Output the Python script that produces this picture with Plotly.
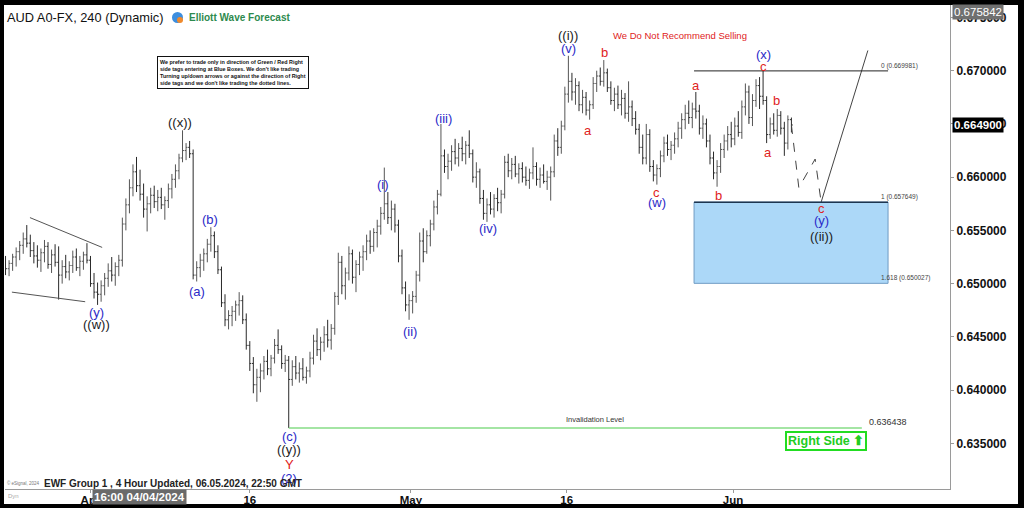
import plotly.graph_objects as go

# ---------------- data ----------------
tick_pos = [24, 69, 114.5, 158.5, 205.5]
tick_text = ["Apr", "16", "May", "16", "Jun"]
price_ticks = [0.635, 0.640, 0.645, 0.650, 0.655, 0.660, 0.665, 0.670, 0.675]
price_text = ["0.635000", "0.640000", "0.645000", "0.650000", "0.655000",
              "0.660000", "0.665000", "0.670000", "0.675000"]

opens = [
 0.6518,0.6514,0.6519,0.6525,0.6530,0.6536,0.6542,0.6538,0.6531,0.6526,
 0.6522,0.6529,0.6535,0.6518,0.6527,0.6520,0.6508,0.6516,0.6511,0.6517,
 0.6525,0.6515,0.6521,0.6527,0.6522,0.6500,0.6492,0.6490,0.6498,0.6505,
 0.6512,0.6508,0.6516,0.6522,0.6556,0.6574,0.6590,0.6605,0.6592,0.6584,
 0.6570,0.6575,0.6583,0.6577,0.6581,0.6574,0.6578,0.6589,0.6598,0.6606,
 0.6618,0.6625,0.6628,0.6622,0.6508,0.6515,0.6522,0.6528,0.6537,0.6545,
 0.6530,0.6513,0.6482,0.6466,0.6470,0.6474,0.6480,0.6484,0.6466,0.6442,
 0.6425,0.6405,0.6412,0.6418,0.6427,0.6420,0.6430,0.6442,0.6438,0.6425,
 0.6428,0.6410,0.6422,0.6416,0.6420,0.6412,0.6418,0.6430,0.6446,0.6438,
 0.6445,0.6452,0.6447,0.6458,0.6488,0.6520,0.6498,0.6510,0.6528,0.6506,
 0.6518,0.6525,0.6530,0.6540,0.6535,0.6548,0.6554,0.6566,0.6575,0.6562,
 0.6570,0.6555,0.6526,0.6496,0.6480,0.6484,0.6488,0.6508,0.6540,0.6530,
 0.6545,0.6556,0.6572,0.6584,0.6620,0.6610,0.6615,0.6624,0.6618,0.6627,
 0.6622,0.6630,0.6622,0.6600,0.6605,0.6580,0.6566,0.6574,0.6570,0.6580,
 0.6576,0.6584,0.6614,0.6606,0.6612,0.6603,0.6608,0.6600,0.6597,0.6604,
 0.6610,0.6598,0.6602,0.6596,0.6600,0.6605,0.6634,0.6628,0.6648,0.6678,
 0.6690,0.6680,0.6686,0.6668,0.6675,0.6663,0.6668,0.6688,0.6695,0.6690,
 0.6698,0.6684,0.6672,0.6678,0.6668,0.6674,0.6660,0.6666,0.6655,0.6645,
 0.6628,0.6618,0.6640,0.6610,0.6602,0.6608,0.6620,0.6632,0.6626,0.6630,
 0.6636,0.6646,0.6654,0.6660,0.6656,0.6664,0.6662,0.6646,0.6650,0.6634,
 0.6618,0.6604,0.6610,0.6626,0.6634,0.6640,0.6636,0.6648,0.6642,0.6666,
 0.6680,0.6656,0.6672,0.6686,0.6676,0.6672,0.6640,0.6650,0.6644,0.6658,
 0.6646,0.6632,0.6654]
highs = [
 0.6526,0.6522,0.6528,0.6534,0.6540,0.6548,0.6555,0.6546,0.6539,0.6536,
 0.6533,0.6541,0.6539,0.6532,0.6537,0.6535,0.6522,0.6527,0.6521,0.6531,
 0.6533,0.6526,0.6530,0.6538,0.6526,0.6510,0.6501,0.6503,0.6510,0.6519,
 0.6525,0.6520,0.6527,0.6562,0.6580,0.6598,0.6612,0.6619,0.6607,0.6594,
 0.6582,0.6590,0.6592,0.6588,0.6590,0.6582,0.6594,0.6603,0.6612,0.6622,
 0.6644,0.6632,0.6634,0.6626,0.6521,0.6528,0.6533,0.6542,0.6553,0.6549,
 0.6536,0.6516,0.6490,0.6475,0.6479,0.6484,0.6492,0.6489,0.6472,0.6446,
 0.6431,0.6420,0.6425,0.6432,0.6438,0.6433,0.6448,0.6457,0.6442,0.6433,
 0.6432,0.6428,0.6432,0.6426,0.6430,0.6422,0.6436,0.6452,0.6458,0.6450,
 0.6460,0.6466,0.6462,0.6492,0.6529,0.6526,0.6515,0.6535,0.6532,0.6522,
 0.6530,0.6536,0.6546,0.6550,0.6552,0.6560,0.6572,0.6609,0.6586,0.6578,
 0.6575,0.6560,0.6532,0.6502,0.6490,0.6493,0.6512,0.6548,0.6552,0.6550,
 0.6560,0.6578,0.6588,0.6650,0.6626,0.6622,0.6630,0.6636,0.6632,0.6638,
 0.6634,0.6644,0.6626,0.6614,0.6608,0.6588,0.6580,0.6586,0.6584,0.6590,
 0.6588,0.6620,0.6622,0.6618,0.6620,0.6613,0.6614,0.6610,0.6608,0.6628,
 0.6614,0.6609,0.6612,0.6606,0.6610,0.6640,0.6646,0.6653,0.6685,0.6714,
 0.6698,0.6693,0.6690,0.6682,0.6680,0.6672,0.6694,0.6700,0.6703,0.6710,
 0.6702,0.6690,0.6684,0.6686,0.6682,0.6679,0.6690,0.6672,0.6662,0.6650,
 0.6640,0.6650,0.6645,0.6616,0.6612,0.6625,0.6638,0.6640,0.6634,0.6642,
 0.6652,0.6660,0.6668,0.6672,0.6670,0.6680,0.6668,0.6658,0.6655,0.6640,
 0.6624,0.6616,0.6632,0.6640,0.6648,0.6652,0.6656,0.6662,0.6672,0.6688,
 0.6686,0.6678,0.6692,0.6694,0.66998,0.6676,0.6656,0.6660,0.6664,0.6662,
 0.6652,0.6658,0.6656]
lows = [
 0.6508,0.6507,0.6512,0.6516,0.6522,0.6528,0.6534,0.6525,0.6519,0.6515,
 0.6511,0.6520,0.6514,0.6510,0.6516,0.6485,0.6500,0.6505,0.6503,0.6510,
 0.6512,0.6507,0.6513,0.6519,0.6497,0.6486,0.6480,0.6483,0.6489,0.6497,
 0.6502,0.6498,0.6507,0.6516,0.6550,0.6566,0.6582,0.6586,0.6578,0.6562,
 0.6549,0.6566,0.6571,0.6568,0.6570,0.6560,0.6571,0.6580,0.6590,0.6598,
 0.6614,0.6616,0.6618,0.6504,0.6502,0.6506,0.6512,0.6520,0.6530,0.6524,
 0.6509,0.6478,0.6460,0.6457,0.6460,0.6465,0.6470,0.6462,0.6438,0.6418,
 0.6397,0.6389,0.6398,0.6410,0.6414,0.6413,0.6425,0.6434,0.6420,0.6417,
 0.636438,0.6404,0.6410,0.6407,0.6409,0.6406,0.6412,0.6424,0.6432,0.6428,
 0.6436,0.6440,0.6438,0.6452,0.6480,0.6490,0.6485,0.6503,0.6500,0.6492,
 0.6508,0.6512,0.6522,0.6528,0.6530,0.6534,0.6546,0.6560,0.6556,0.6550,
 0.6548,0.6520,0.6490,0.6474,0.6466,0.6472,0.6482,0.6502,0.6520,0.6528,
 0.6535,0.6550,0.6565,0.6582,0.6604,0.6598,0.6606,0.6612,0.6610,0.6615,
 0.6612,0.6618,0.6595,0.6590,0.6575,0.6560,0.6558,0.6565,0.6562,0.6568,
 0.6566,0.6580,0.6600,0.6598,0.6600,0.6594,0.6595,0.6592,0.6589,0.6598,
 0.6592,0.6590,0.6594,0.6588,0.6578,0.6600,0.6620,0.6622,0.6644,0.6670,
 0.6672,0.6668,0.6662,0.6660,0.6658,0.6654,0.6664,0.6680,0.6686,0.6685,
 0.6680,0.6668,0.6662,0.6664,0.6658,0.6655,0.6652,0.6648,0.6640,0.6622,
 0.6612,0.6612,0.6605,0.6596,0.6593,0.6600,0.6614,0.6620,0.6616,0.6622,
 0.6628,0.6636,0.6645,0.6650,0.6646,0.6655,0.6640,0.6636,0.6628,0.6612,
 0.6598,0.6591,0.6604,0.6618,0.6625,0.6628,0.6630,0.6638,0.6636,0.6658,
 0.6650,0.6648,0.6666,0.6664,0.6668,0.6632,0.6636,0.6640,0.6638,0.6640,
 0.6620,0.6626,0.6642]
closes = [
 0.6514,0.6519,0.6525,0.6530,0.6536,0.6542,0.6538,0.6531,0.6526,0.6522,
 0.6529,0.6535,0.6518,0.6527,0.6520,0.6508,0.6516,0.6511,0.6517,0.6525,
 0.6515,0.6521,0.6527,0.6522,0.6500,0.6492,0.6490,0.6498,0.6505,0.6512,
 0.6508,0.6516,0.6522,0.6556,0.6574,0.6590,0.6605,0.6592,0.6584,0.6570,
 0.6575,0.6583,0.6577,0.6581,0.6574,0.6578,0.6589,0.6598,0.6606,0.6618,
 0.6625,0.6628,0.6622,0.6508,0.6515,0.6522,0.6528,0.6537,0.6545,0.6530,
 0.6513,0.6482,0.6466,0.6470,0.6474,0.6480,0.6484,0.6466,0.6442,0.6425,
 0.6405,0.6412,0.6418,0.6427,0.6420,0.6430,0.6442,0.6438,0.6425,0.6428,
 0.6410,0.6422,0.6416,0.6420,0.6412,0.6418,0.6430,0.6446,0.6438,0.6445,
 0.6452,0.6447,0.6458,0.6488,0.6520,0.6498,0.6510,0.6528,0.6506,0.6518,
 0.6525,0.6530,0.6540,0.6535,0.6548,0.6554,0.6566,0.6575,0.6562,0.6570,
 0.6555,0.6526,0.6496,0.6480,0.6484,0.6488,0.6508,0.6540,0.6530,0.6545,
 0.6556,0.6572,0.6584,0.6620,0.6610,0.6615,0.6624,0.6618,0.6627,0.6622,
 0.6630,0.6622,0.6600,0.6605,0.6580,0.6566,0.6574,0.6570,0.6580,0.6576,
 0.6584,0.6614,0.6606,0.6612,0.6603,0.6608,0.6600,0.6597,0.6604,0.6610,
 0.6598,0.6602,0.6596,0.6600,0.6605,0.6634,0.6628,0.6648,0.6678,0.6690,
 0.6680,0.6686,0.6668,0.6675,0.6663,0.6668,0.6688,0.6695,0.6690,0.6698,
 0.6684,0.6672,0.6678,0.6668,0.6674,0.6660,0.6666,0.6655,0.6645,0.6628,
 0.6618,0.6640,0.6610,0.6602,0.6608,0.6620,0.6632,0.6626,0.6630,0.6636,
 0.6646,0.6654,0.6660,0.6656,0.6664,0.6662,0.6646,0.6650,0.6634,0.6618,
 0.6604,0.6610,0.6626,0.6634,0.6640,0.6636,0.6648,0.6642,0.6666,0.6680,
 0.6656,0.6672,0.6686,0.6676,0.6672,0.6640,0.6650,0.6644,0.6658,0.6646,
 0.6632,0.6654,0.6649]
bar_x = list(range(len(closes)))

last_price = 0.664900
high_price = 0.675842

fib_levels = [0.669981, 0.657649, 0.650027]
fib_text = ["0 (0.669981)", "1 (0.657649)", "1.618 (0.650027)"]
box_x = [194.5, 249.3]
inval_level = 0.636438
inval_x = [80, 241.9]
proj_x = [222, 224.1, 228.7, 230.4]
proj_y = [0.6649, 0.6590, 0.6617, 0.657649]
target_x = [230.4, 243.6]
target_y = [0.657649, 0.6719]
tri_up_x = [6.9, 27.3]
tri_up_y = [0.6562, 0.6534]
tri_lo_x = [1.8, 22.5]
tri_lo_y = [0.6492, 0.6483]

black_labels = [("((w))", 25.6, 0.6462), ("((x))", 49.3, 0.6651), ("((y))", 80.1, 0.6344),
                ("((i))", 158.9, 0.6733), ("((ii))", 230.4, 0.6544)]
blue_labels = [("(y)", 25.6, 0.6473), ("(a)", 54.1, 0.6493), ("(b)", 57.8, 0.6560),
               ("(c)", 80.1, 0.6356), ("(2)", 80.1, 0.6317), ("(i)", 106.6, 0.6593),
               ("(ii)", 114.3, 0.6455), ("(iii)", 123.6, 0.6655), ("(iv)", 136.3, 0.6552),
               ("(v)", 158.9, 0.6721), ("(w)", 184.0, 0.6576), ("(x)", 214.0, 0.6715),
               ("(y)", 230.4, 0.6559)]
red_labels = [("Y", 80.1, 0.6330), ("a", 164.5, 0.6644), ("b", 169.1, 0.6717),
              ("c", 184.0, 0.6586), ("a", 195.1, 0.6686), ("b", 201.3, 0.6583),
              ("c", 214.0, 0.6704), ("a", 215.4, 0.6623), ("b", 217.9, 0.6672),
              ("c", 230.4, 0.6571)]

# ---------------- figure ----------------
X0, X1 = -0.15, 266.8
Y0, Y1 = 0.630708, 0.676171
FONT = "Liberation Sans, Arial, sans-serif"

def px(x):
    return (x - 5) / 945.0

def py(y):
    return (489 - y) / 484.0

def note(x, y, text, size, color, xa="center", ya="middle", **kw):
    fig.add_annotation(x=px(x), y=py(y), xref="paper", yref="paper", text=text, showarrow=False,
                       xanchor=xa, yanchor=ya, font=dict(family=FONT, size=size, color=color), **kw)

fig = go.Figure()

fig.add_trace(go.Ohlc(x=bar_x, open=opens, high=highs, low=lows, close=closes,
                      increasing=dict(line=dict(color="#555555", width=1)),
                      decreasing=dict(line=dict(color="#2a2a2a", width=1)),
                      tickwidth=0.4, hoverinfo="skip", showlegend=False))

for xs, ys in [(tri_up_x, tri_up_y), (tri_lo_x, tri_lo_y)]:
    fig.add_trace(go.Scatter(x=xs, y=ys, mode="lines", line=dict(color="#555555", width=1),
                             hoverinfo="skip", showlegend=False))

fig.add_trace(go.Scatter(x=proj_x, y=proj_y, mode="lines",
                         line=dict(color="#444444", width=1, dash="dash"),
                         hoverinfo="skip", showlegend=False))
fig.add_trace(go.Scatter(x=target_x, y=target_y, mode="lines",
                         line=dict(color="#444444", width=1),
                         hoverinfo="skip", showlegend=False))

# background frame
fig.add_shape(type="rect", xref="paper", yref="paper", x0=px(4), x1=px(1018), y0=py(504), y1=py(5),
              fillcolor="white", line_width=0, layer="below")

# blue box
fig.add_shape(type="rect", xref="x", yref="y", x0=box_x[0], x1=box_x[1],
              y0=fib_levels[2], y1=fib_levels[1], fillcolor="#acd8f8",
              line=dict(color="#6f9cc4", width=1), layer="below")
fig.add_shape(type="line", xref="x", yref="y", x0=box_x[0], x1=box_x[1],
              y0=fib_levels[1], y1=fib_levels[1], line=dict(color="#1d3550", width=1.5))
fig.add_shape(type="line", xref="x", yref="y", x0=box_x[0], x1=box_x[1],
              y0=fib_levels[0], y1=fib_levels[0], line=dict(color="#222222", width=1))
for lvl, txt in zip(fib_levels, fib_text):
    fig.add_annotation(x=box_x[1] - 2.5, y=lvl, xref="x", yref="y", text=txt, showarrow=False,
                       xanchor="left", yanchor="bottom", yshift=-1,
                       font=dict(family=FONT, size=6.5, color="#444444"))

# invalidation level
fig.add_shape(type="line", xref="x", yref="y", x0=inval_x[0], x1=inval_x[1],
              y0=inval_level, y1=inval_level, line=dict(color="#86dd86", width=1.5))
fig.add_annotation(x=166.5, y=inval_level, xref="x", yref="y", text="Invalidation Level",
                   showarrow=False, xanchor="center", yanchor="bottom", yshift=2,
                   font=dict(family=FONT, size=7.5, color="#333333"))
fig.add_annotation(x=inval_x[1] + 1.5, y=inval_level, xref="x", yref="y", text=f"{inval_level:.6f}",
                   showarrow=False, xanchor="left", yanchor="middle", yshift=6,
                   font=dict(family=FONT, size=9, color="#333333"))

# wave labels
for lst, col in [(black_labels, "#1a1a1a"), (blue_labels, "#2a2ac8"), (red_labels, "#e02222")]:
    for t, x, y in lst:
        fig.add_annotation(x=x, y=y, xref="x", yref="y", text=t, showarrow=False,
                           xanchor="center", yanchor="middle",
                           font=dict(family=FONT, size=13, color=col))

# right side tag
note(826, 441, "<b>Right Side \u2b06</b>", 12.5, "#22cc22",
     bordercolor="#22dd22", borderwidth=2, borderpad=1, bgcolor="white")

# headers / notes
note(5, 17, "AUD A0-FX, 240 (Dynamic)", 12.8, "#111111", xa="left")
fig.add_shape(type="circle", xref="paper", yref="paper", x0=px(172), x1=px(183), y0=py(23), y1=py(12),
              fillcolor="#3d8ede", line_width=0)
fig.add_shape(type="circle", xref="paper", yref="paper", x0=px(177), x1=px(183), y0=py(23), y1=py(17),
              fillcolor="#f08a2c", line_width=0)
note(187, 17, "<b>Elliott Wave Forecast</b>", 10, "#2d8a4e", xa="left")
note(233, 72, ("<b>We prefer to trade only in direction of Green / Red Right<br>"
               "side tags entering at Blue Boxes. We don't like trading<br>"
               "Turning up/down arrows or against the direction of Right<br>"
               "side tags and we don't like trading the dotted lines.</b>"),
     5.4, "#111111", align="left", bgcolor="white", bordercolor="#111111", borderwidth=1, borderpad=2)
note(680, 36, "We Do Not Recommend Selling", 9.5, "#e02222")
note(5, 483, "\u00a9 eSignal, 2024", 4.5, "#777777", xa="left")
note(42, 483, "<b>EWF Group 1 , 4 Hour Updated, 06.05.2024, 22:50 GMT</b>", 10, "#222222", xa="left")
note(6, 496, "Dyn", 6, "#aaaaaa", xa="left")
note(139, 497.5, "<b>16:00 04/04/2024</b>", 11.5, "white", bgcolor="#6a6a6a", borderpad=1)

# price tags
note(952, 12, f"{high_price:.6f}", 11.5, "white", xa="left", bgcolor="#707070", borderpad=1)
fig.add_annotation(x=px(952), y=last_price, xref="paper", yref="y", text=f"<b>{last_price:.6f}</b>",
                   showarrow=False, xanchor="left", yanchor="middle", bgcolor="#000000", borderpad=1,
                   font=dict(family=FONT, size=11.5, color="white"))

fig.update_layout(
    template="none",
    width=1024, height=508,
    margin=dict(l=5, r=74, t=5, b=19, pad=0, autoexpand=False),
    paper_bgcolor="#000000", plot_bgcolor="white",
    showlegend=False,
    font=dict(family=FONT),
    xaxis=dict(range=[X0, X1], tickvals=tick_pos, ticktext=tick_text, showgrid=False, zeroline=False,
               automargin=False,
               showline=True, linecolor="#9a9a9a", linewidth=1, ticks="outside", ticklen=3,
               ticklabelstandoff=-3,
               tickcolor="#9a9a9a", tickfont=dict(family=FONT, size=11.5, color="#111111", weight="bold"),
               rangeslider=dict(visible=False)),
    yaxis=dict(range=[Y0, Y1], side="right", tickvals=price_ticks, ticktext=price_text,
               automargin=False,
               showgrid=False, zeroline=False, showline=True, linecolor="#9a9a9a", linewidth=1,
               ticks="outside", ticklen=3, tickcolor="#9a9a9a",
               tickfont=dict(family=FONT, size=12, color="#111111", weight="bold")),
)

fig.write_html("out.html", config={"displayModeBar": False},
               post_script="document.body.style.margin='0';document.body.style.padding='0';"
                           "document.documentElement.style.margin='0';")
